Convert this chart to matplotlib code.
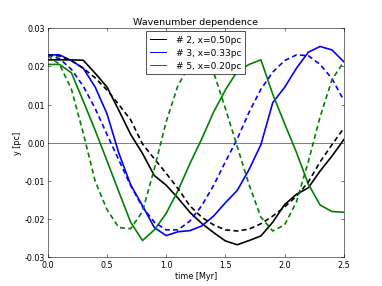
import numpy as np
import matplotlib
matplotlib.use('Agg')
import matplotlib.pyplot as plt
from matplotlib.lines import Line2D

# time axis [Myr], sampled every 0.1 Myr
time = np.round(np.arange(0, 2.51, 0.1), 2)

# simulation (solid)
y2_sim = [0.0217, 0.0217, 0.0217, 0.0216, 0.0182, 0.0146, 0.0085, 0.0022, -0.0028, -0.0086,
          -0.0111, -0.0145, -0.0182, -0.0211, -0.0235, -0.0257, -0.0267, -0.0256, -0.0244, -0.0208,
          -0.0162, -0.0135, -0.0118, -0.0074, -0.0035, 0.0008]
y3_sim = [0.0230, 0.0230, 0.0215, 0.0195, 0.0146, 0.0076, -0.0027, -0.0110, -0.0165, -0.0222,
          -0.0243, -0.0233, -0.0230, -0.0218, -0.0192, -0.0157, -0.0125, -0.0070, -0.0005, 0.0105,
          0.0145, 0.0195, 0.0237, 0.0252, 0.0243, 0.0212]
y5_sim = [0.0205, 0.0205, 0.0183, 0.0109, 0.0033, -0.0047, -0.0128, -0.0208, -0.0256, -0.0228,
          -0.0185, -0.0125, -0.0055, 0.0010, 0.0080, 0.0138, 0.0187, 0.0205, 0.0217, 0.0127,
          0.0050, -0.0025, -0.0108, -0.0163, -0.0180, -0.0182]

# analytic (dashed)
y2_th = [0.0230, 0.0227, 0.0215, 0.0195, 0.0170, 0.0138, 0.0100, 0.0060, -0.0003, -0.0042,
         -0.0080, -0.0120, -0.0165, -0.0195, -0.0215, -0.0228, -0.0231, -0.0226, -0.0212, -0.0192,
         -0.0168, -0.0140, -0.0103, -0.0050, -0.0005, 0.0038]
y3_th = [0.0230, 0.0220, 0.0192, 0.0148, 0.0090, 0.0022, -0.0045, -0.0112, -0.0168, -0.0208,
         -0.0228, -0.0228, -0.0205, -0.0165, -0.0112, -0.0050, 0.0010, 0.0080, 0.0140, 0.0185,
         0.0215, 0.0230, 0.0228, 0.0205, 0.0168, 0.0111]
y5_th = [0.0228, 0.0205, 0.0140, 0.0025, -0.0100, -0.0175, -0.0222, -0.0225, -0.0180, -0.0068,
         0.0055, 0.0150, 0.0205, 0.0228, 0.0185, 0.0090, -0.0010, -0.0110, -0.0195, -0.0231,
         -0.0215, -0.0155, -0.0050, 0.0068, 0.0165, 0.0212]

labels = ['# 2, x=0.50pc', '# 3, x=0.33pc', '# 5, x=0.20pc']
colors = ['k', 'b', 'g']

plt.rcParams['font.size'] = 12
plt.rcParams['xtick.direction'] = 'in'
plt.rcParams['ytick.direction'] = 'in'
plt.rcParams['xtick.top'] = True
plt.rcParams['ytick.right'] = True

fig = plt.figure(figsize=(8, 6), dpi=47.75)
ax = fig.add_axes([0.125, 0.1, 0.775, 0.8])

ax.axhline(0, color='gray', lw=1.5)
for ys, c in zip([y2_sim, y3_sim, y5_sim], colors):
    ax.plot(time, ys, color=c, lw=2.5)
for ys, c in zip([y2_th, y3_th, y5_th], colors):
    ax.plot(time, ys, color=c, lw=2.5, ls='--', dashes=(3, 2))

ax.set_xlim(0, 2.5)
ax.set_ylim(-0.03, 0.03)
ax.set_xticks(np.arange(0, 2.51, 0.5))
ax.set_yticks(np.arange(-0.03, 0.031, 0.01))
ax.yaxis.set_major_formatter(matplotlib.ticker.FormatStrFormatter('%.2f'))
ax.tick_params(length=5, pad=4)
ax.set_xlabel('time [Myr]')
ax.set_ylabel('y [pc]')
ax.set_title('Wavenumber dependence')

# legend handles are thin lines
handles = [Line2D([], [], color=c, lw=1.5) for c in colors]
ax.legend(handles, labels, loc='upper center', fancybox=False, framealpha=1,
          edgecolor='k', fontsize=13.5, handlelength=1.7, handletextpad=1.1,
          labelspacing=0.45, borderpad=0.45, borderaxespad=0.35)

fig.savefig('out.png', dpi=47.75)
